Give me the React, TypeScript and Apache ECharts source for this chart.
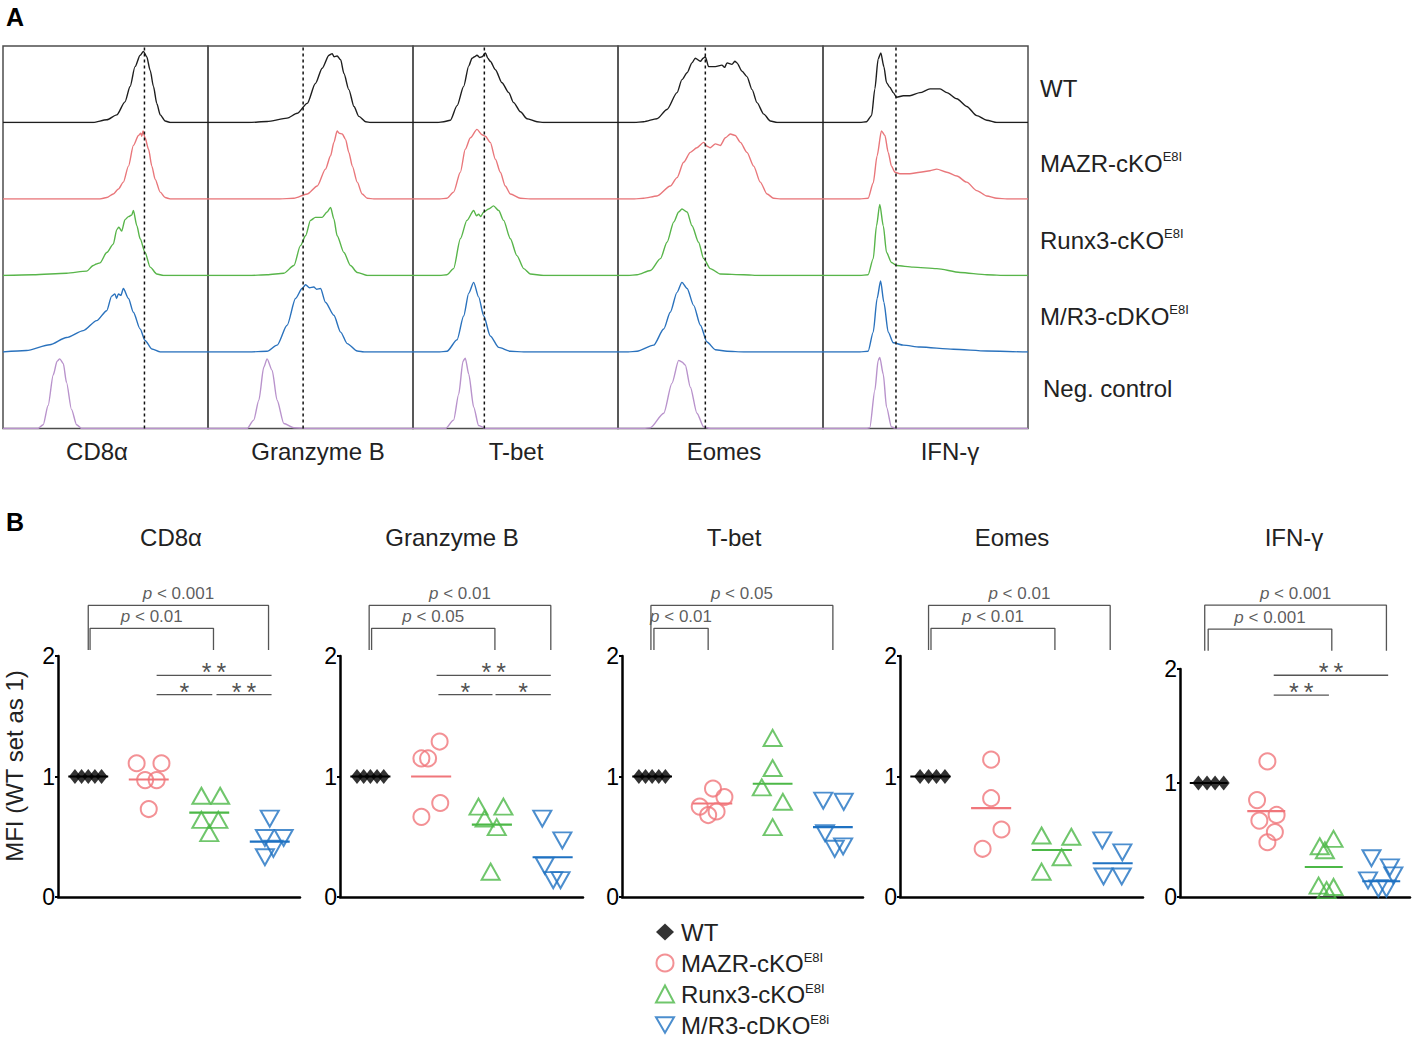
import React, { useEffect, useRef } from "react";
import * as echarts from "echarts";

const FONT = '"Liberation Sans", Arial, Helvetica, sans-serif';

// ---------- Panel A: flow cytometry histograms ----------
const MARKERS = ["CD8α", "Granzyme B", "T-bet", "Eomes", "IFN-γ"];
const HIST_ROWS = ["WT", "MAZR-cKO", "Runx3-cKO", "M/R3-cDKO", "Neg. control"];
const HIST_SUP = ["", "E8I", "E8I", "E8I", ""];
const HIST_COLORS = ["#1e1e1e", "#e9777b", "#58b54a", "#2a72bd", "#b993cc"];
// dashed reference line (WT level), x in 0..100 of each column
const DASH_POS = [69, 46.4, 34.8, 42.6, 35.6];

const CD8_HIST = [
  [[0,0],[44,0],[50.6,0.035],[55.5,0.1],[59.5,0.27],[62,0.47],[64.4,0.73],[66.9,0.88],[68.5,0.93],[70.1,0.86],[71.8,0.68],[73.4,0.47],[75,0.25],[76.7,0.1],[79.1,0.02],[81.6,0],[100,0]],
  [[0,0],[47.3,0],[50.6,0.02],[53.8,0.065],[56.3,0.13],[58.7,0.22],[61.2,0.43],[63.6,0.7],[66.1,0.83],[67.2,0.86],[67.7,0.82],[68.3,0.89],[69.3,0.8],[71,0.65],[72.6,0.43],[74.2,0.26],[76.7,0.09],[79.1,0.02],[81.6,0],[100,0]],
  [[0,0],[14.7,0.01],[31,0.03],[40.8,0.057],[44,0.13],[45.5,0.15],[47.3,0.165],[50.6,0.3],[53.8,0.41],[55.5,0.6],[56.5,0.63],[57.9,0.58],[59.5,0.73],[61.2,0.77],[62.8,0.79],[63.6,0.85],[65.3,0.65],[66.9,0.48],[69.3,0.3],[71.8,0.11],[75,0.02],[78.3,0],[100,0]],
  [[0,0],[11.4,0.02],[22.8,0.095],[31,0.19],[39.2,0.28],[45.7,0.41],[50.6,0.54],[53,0.73],[54.6,0.76],[55.4,0.7],[56.3,0.76],[57.5,0.74],[58.7,0.83],[61.2,0.7],[63.6,0.52],[66.9,0.3],[69.3,0.15],[72.6,0.04],[76.7,0],[100,0]],
  [[0,0],[17.1,0],[19.6,0.05],[22,0.3],[24.5,0.7],[26.4,0.88],[27.7,0.91],[29.4,0.85],[31,0.6],[33.4,0.25],[35.9,0.05],[38.3,0],[100,0]],
];
const GZMB_HIST = [
  [[0,0],[20,0],[28.8,0.013],[38.6,0.057],[43.5,0.12],[48.4,0.25],[52.4,0.51],[55.7,0.71],[59,0.88],[60.6,0.9],[61.5,0.86],[63,0.87],[64.7,0.82],[66.3,0.64],[68.7,0.43],[71.2,0.21],[73.6,0.08],[76.9,0.01],[79.3,0],[100,0]],
  [[0,0],[35,0],[41.9,0.01],[48.4,0.065],[53.3,0.17],[57.3,0.39],[59.8,0.565],[61.4,0.74],[63,0.89],[64,0.86],[65.5,0.85],[67.1,0.78],[68.7,0.61],[70.4,0.43],[72.8,0.22],[75.2,0.065],[77.7,0.01],[80.9,0],[100,0]],
  [[0,0],[20,0],[28.8,0.01],[37,0.03],[41.9,0.13],[45.1,0.39],[47.6,0.52],[50,0.72],[52.4,0.76],[55.7,0.76],[58.1,0.83],[59.8,0.89],[61.4,0.74],[63,0.52],[66.3,0.3],[69.5,0.13],[72.8,0.04],[77.7,0],[100,0]],
  [[0,0],[20,0],[28.8,0.01],[33.7,0.09],[38.6,0.35],[42.7,0.7],[45.9,0.83],[47.6,0.88],[49.5,0.84],[51.6,0.85],[53,0.82],[54.9,0.83],[57.3,0.65],[61.4,0.48],[64.7,0.26],[67.9,0.11],[72.8,0.013],[76.1,0],[100,0]],
  [[0,0],[19,0],[22.3,0.11],[24.8,0.37],[27.2,0.8],[28.8,0.91],[31.3,0.76],[33.7,0.37],[37,0.065],[41.9,0.01],[50,0],[100,0]],
];
const TBET_HIST = [
  [[0,0],[12,0],[15,0.01],[18.2,0.03],[21.5,0.22],[24.7,0.47],[27.2,0.74],[28.8,0.84],[30,0.86],[31.2,0.88],[32.5,0.85],[33.7,0.86],[35.3,0.91],[36.5,0.84],[37.7,0.8],[40.2,0.69],[43.4,0.52],[46.7,0.39],[49.1,0.26],[52.4,0.14],[55.6,0.05],[60.5,0.01],[63.7,0],[100,0]],
  [[0,0],[13,0],[16.6,0.01],[19.8,0.09],[23.1,0.35],[25.5,0.65],[28,0.8],[31.2,0.91],[33.7,0.84],[35.3,0.82],[37.7,0.74],[40.2,0.52],[42.6,0.35],[45,0.17],[47.5,0.065],[52.4,0.01],[57.2,0],[100,0]],
  [[0,0],[13,0],[16.6,0.01],[19.8,0.09],[23.1,0.48],[26.3,0.72],[29.6,0.85],[31,0.78],[32,0.8],[33,0.77],[34.5,0.83],[36.9,0.87],[39.3,0.91],[41.8,0.85],[44.2,0.72],[47.5,0.48],[50.7,0.26],[54,0.09],[57.2,0.02],[63.7,0],[100,0]],
  [[0,0],[13,0],[16.6,0.01],[21.5,0.16],[24.7,0.47],[27.2,0.77],[29.6,0.91],[32,0.72],[34.5,0.47],[37.7,0.21],[41.8,0.06],[47.5,0.01],[54,0],[100,0]],
  [[0,0],[15.8,0],[19.8,0.11],[22.3,0.45],[24.4,0.88],[25.5,0.92],[27.2,0.71],[29.6,0.28],[32,0.04],[35.3,0],[100,0]],
];
const EOMES_HIST = [
  [[0,0],[8,0],[12.5,0.01],[19,0.05],[23.9,0.17],[28.8,0.39],[31.2,0.56],[33.7,0.65],[36.1,0.78],[37.7,0.84],[40.2,0.8],[41.5,0.84],[42.6,0.86],[44.2,0.73],[47.5,0.73],[50.7,0.75],[52,0.72],[53.2,0.78],[55.6,0.76],[57,0.8],[58,0.78],[60.5,0.67],[62.9,0.6],[65.4,0.43],[67.8,0.26],[71.1,0.11],[74.3,0.02],[77.6,0],[100,0]],
  [[0,0],[8,0],[12.5,0.01],[19,0.04],[25.5,0.17],[28.8,0.28],[32,0.48],[35.3,0.61],[38.5,0.67],[41.8,0.74],[43.5,0.69],[45,0.67],[47.5,0.72],[49.9,0.7],[52.4,0.8],[54.8,0.85],[57.2,0.83],[59.7,0.74],[62.9,0.61],[66.2,0.43],[69.4,0.22],[72.7,0.065],[75.9,0.01],[79.2,0],[100,0]],
  [[0,0],[5,0],[9.3,0.01],[15.8,0.065],[20.7,0.22],[23.9,0.435],[27.2,0.7],[29.6,0.83],[31.2,0.87],[33.7,0.83],[36.1,0.65],[39.3,0.435],[41.8,0.22],[45,0.09],[49.9,0.02],[61.3,0.01],[69.4,0],[100,0]],
  [[0,0],[5,0],[9.3,0.01],[17.4,0.09],[22.3,0.3],[25.5,0.52],[28.8,0.78],[31.2,0.91],[33.7,0.83],[36.9,0.61],[40.2,0.35],[43.4,0.13],[47.5,0.03],[53.2,0.01],[61.3,0],[100,0]],
  [[0,0],[12.5,0],[15.8,0.01],[22.3,0.2],[26.3,0.59],[29.6,0.89],[31.2,0.87],[32.8,0.83],[35.3,0.54],[38.5,0.2],[41.8,0.02],[45,0],[100,0]],
];
const IFNG_HIST = [
  [[0,0],[18,0],[21.2,0.01],[23.7,0.09],[25.3,0.44],[26.9,0.83],[28.2,0.91],[29.7,0.73],[31,0.52],[32.6,0.46],[34.3,0.39],[35.9,0.33],[39.2,0.35],[42.4,0.35],[47.3,0.39],[52.2,0.44],[57.1,0.44],[60.4,0.39],[65.3,0.31],[70.1,0.21],[75,0.09],[79.9,0.03],[84.8,0],[100,0]],
  [[0,0],[18,0],[22,0.01],[24.5,0.21],[26.4,0.565],[28.5,0.89],[30.2,0.83],[31.8,0.61],[33.4,0.43],[35.1,0.35],[37.5,0.33],[42.4,0.33],[47.3,0.35],[52.2,0.37],[55.5,0.39],[60.4,0.35],[65.3,0.3],[70.1,0.22],[75,0.11],[79.9,0.04],[84.8,0.01],[89.7,0],[100,0]],
  [[0,0],[18,0],[22,0.01],[24.5,0.22],[26.1,0.65],[27.7,0.93],[29.4,0.65],[31,0.3],[33.4,0.17],[35.9,0.13],[44,0.11],[55.5,0.09],[66.9,0.04],[79.9,0.01],[89.7,0],[100,0]],
  [[0,0],[18,0],[22,0.01],[24.5,0.26],[26.4,0.7],[28.1,0.93],[29.7,0.65],[31.8,0.26],[34.3,0.12],[39.2,0.09],[47.3,0.065],[63.6,0.035],[79.9,0.013],[99.5,0],[100,0]],
  [[0,0],[21.2,0],[22.8,0.01],[25.3,0.5],[26.9,0.89],[27.7,0.93],[29.4,0.71],[31,0.28],[33.4,0.02],[35.9,0],[100,0]],
];
const HISTS = [CD8_HIST, GZMB_HIST, TBET_HIST, EOMES_HIST, IFNG_HIST];

// ---------- Panel B: MFI (WT set as 1) ----------
const GENOTYPES = ["WT", "MAZR-cKO", "Runx3-cKO", "M/R3-cDKO"];
const GENO_SUP = ["", "E8I", "E8I", "E8i"];
const GENO_COLORS = ["#000000", "#f0767b", "#4cb847", "#1f72c2"];

const CD8_VALUES = [[1, 1, 1, 1, 1], [1.11, 1.11, 0.97, 0.97, 0.73], [0.84, 0.84, 0.64, 0.64, 0.53], [0.65, 0.49, 0.49, 0.4, 0.33]];
const CD8_JITTER = [[-0.22, -0.11, 0, 0.11, 0.22], [-0.2, 0.21, -0.06, 0.13, 0], [-0.13, 0.18, -0.13, 0.15, 0], [0, -0.08, 0.23, 0.06, -0.08]];
const CD8_MEANS = [1, 0.975, 0.7, 0.46];

const GZMB_VALUES = [[1, 1, 1, 1, 1], [1.15, 1.15, 1.29, 0.665, 0.78], [0.75, 0.75, 0.65, 0.58, 0.21], [0.65, 0.47, 0.26, 0.14, 0.14]];
const GZMB_JITTER = [[-0.22, -0.11, 0, 0.11, 0.22], [-0.16, -0.05, 0.14, -0.16, 0.15], [-0.22, 0.19, -0.12, 0.08, -0.02], [-0.17, 0.16, -0.13, 0.01, 0.13]];
const GZMB_MEANS = [1, 1.0, 0.6, 0.33];

const TBET_VALUES = [[1, 1, 1, 1, 1], [0.9, 0.83, 0.75, 0.71, 0.68], [1.32, 1.07, 0.91, 0.79, 0.58], [0.8, 0.79, 0.53, 0.4, 0.42]];
const TBET_JITTER = [[-0.22, -0.11, 0, 0.11, 0.22], [0.01, 0.2, -0.21, 0.07, -0.07], [0, 0, -0.18, 0.17, 0], [-0.16, 0.18, -0.13, 0.03, 0.17]];
const TBET_MEANS = [1, 0.776, 0.94, 0.58];

const EOMES_VALUES = [[1, 1, 1, 1], [1.14, 0.82, 0.56, 0.4], [0.51, 0.5, 0.33, 0.21], [0.47, 0.37, 0.17, 0.17]];
const EOMES_JITTER = [[-0.17, -0.03, 0.1, 0.24], [0, 0, 0.17, -0.14], [-0.17, 0.32, 0.16, -0.17], [-0.17, 0.16, -0.15, 0.15]];
const EOMES_MEANS = [1, 0.737, 0.39, 0.28];

const IFNG_VALUES = [[1, 1, 1, 1], [1.19, 0.85, 0.72, 0.67, 0.57, 0.48], [0.51, 0.445, 0.41, 0.1, 0.06, 0.088], [0.34, 0.26, 0.19, 0.146, 0.074, 0.074]];
const IFNG_JITTER = [[-0.18, -0.03, 0.11, 0.26], [0.02, -0.16, 0.18, -0.12, 0.15, 0.02], [0.17, -0.07, 0.02, -0.09, 0.05, 0.17], [-0.17, 0.15, 0.21, -0.23, -0.05, 0.09]];
const IFNG_MEANS = [1, 0.754, 0.263, 0.138];

const VALUES = [CD8_VALUES, GZMB_VALUES, TBET_VALUES, EOMES_VALUES, IFNG_VALUES];
const JITTER = [CD8_JITTER, GZMB_JITTER, TBET_JITTER, EOMES_JITTER, IFNG_JITTER];
const MEANS = [CD8_MEANS, GZMB_MEANS, TBET_MEANS, EOMES_MEANS, IFNG_MEANS];

// significance brackets: [label, from group, to group]  (outer first, then inner)
const CD8_PVALS = [["p < 0.001", 0.0, 2.98], ["p < 0.01", 0.03, 2.07]];
const GZMB_PVALS = [["p < 0.01", -0.02, 2.97], ["p < 0.05", 0.02, 2.05]];
const TBET_PVALS = [["p < 0.05", -0.02, 3.0], ["p < 0.01", 0.03, 0.93]];
const EOMES_PVALS = [["p < 0.01", -0.03, 2.96], ["p < 0.01", 0.01, 2.05]];
const IFNG_PVALS = [["p < 0.001", -0.07, 3.09], ["p < 0.001", -0.01, 2.14]];
const PVALS = [CD8_PVALS, GZMB_PVALS, TBET_PVALS, EOMES_PVALS, IFNG_PVALS];

// star lines: [label, from, to, level 0 = upper, 1 = lower]
const CD8_STARS = [["**", 1.13, 3.03, 0], ["*", 1.13, 2.05, 1], ["**", 2.12, 3.03, 1]];
const GZMB_STARS = [["**", 1.09, 2.97, 0], ["*", 1.12, 2.01, 1], ["*", 2.06, 2.97, 1]];
const TBET_STARS: any[] = [];
const EOMES_STARS: any[] = [];
const IFNG_STARS = [["**", 1.13, 3.12, 0], ["**", 1.13, 2.09, 1]];
const STARS = [CD8_STARS, GZMB_STARS, TBET_STARS, EOMES_STARS, IFNG_STARS];

// annotation levels in axis units: [leg bottom, inner bar, outer bar, upper star bar, lower star bar]
const LEVELS = [
  [2.05, 2.23, 2.42, 1.84, 1.68],
  [2.05, 2.23, 2.42, 1.84, 1.68],
  [2.05, 2.23, 2.42, 1.84, 1.68],
  [2.05, 2.23, 2.42, 1.84, 1.68],
  [2.16, 2.35, 2.56, 1.945, 1.77],
];
const Y_TICKS = [0, 1, 2];

// layout
const COL_LEFT = 3, COL_W = 205, ROW_TOP = 46, ROW_H = 76.5;
const P_LEFT = [58, 340, 622, 900, 1180];
const P_TOP = [656, 656, 656, 656, 669];
const P_W = [242, 243, 241, 243, 230];
const P_H = [241, 241, 241, 241, 228];

const DOWN_TRI = "path://M0,0L20,0L10,17.3Z";
const SYMBOLS: any[] = ["diamond", "circle", "triangle", DOWN_TRI];
const SYM_SIZE: any[] = [[12, 15], 16, [18, 16], [18, 16]];

function supText(name: string, sup: string) {
  return sup ? `{m|${name}}{s|${sup}}` : `{m|${name}}`;
}

function buildOption() {
  const grid: any[] = [];
  const xAxis: any[] = [];
  const yAxis: any[] = [];
  const series: any[] = [];
  const graphic: any[] = [];

  // Panel A row grids
  for (let c = 0; c < 5; c++) {
    for (let r = 0; r < 5; r++) {
      const idx = grid.length;
      grid.push({ left: COL_LEFT + c * COL_W, top: ROW_TOP + r * ROW_H, width: COL_W, height: ROW_H });
      xAxis.push({ type: "value", gridIndex: idx, min: 0, max: 100, show: false });
      yAxis.push({ type: "value", gridIndex: idx, min: 0, max: 1, show: false });
      series.push({
        type: "line", name: "hist", xAxisIndex: idx, yAxisIndex: idx, data: HISTS[c][r],
        symbol: "none", showSymbol: false, smooth: 0.25, smoothMonotone: "x", silent: true, z: 3,
        lineStyle: { color: HIST_COLORS[r], width: 1.4 },
      });
    }
  }
  // Panel A column frames + dashed line
  for (let c = 0; c < 5; c++) {
    const idx = grid.length;
    grid.push({
      left: COL_LEFT + c * COL_W, top: ROW_TOP, width: COL_W, height: ROW_H * 5,
      show: true, borderColor: "#4d4d4d", borderWidth: 1.5, backgroundColor: "transparent",
    });
    xAxis.push({ type: "value", gridIndex: idx, min: 0, max: 100, show: false });
    yAxis.push({ type: "value", gridIndex: idx, min: 0, max: 1, show: false });
    series.push({
      type: "line", name: "dash", xAxisIndex: idx, yAxisIndex: idx,
      data: [[DASH_POS[c], 0], [DASH_POS[c], 1]], symbol: "none", silent: true, z: 4,
      lineStyle: { color: "#111", width: 1.5, type: [3, 3] },
    });
    graphic.push({
      type: "text", x: [97, 318, 516, 724, 950][c], y: 451,
      style: { text: MARKERS[c], font: `24px ${FONT}`, fill: "#222", align: "center", verticalAlign: "middle", textAlign: "center", textVerticalAlign: "middle" },
    });
  }
  // Panel A row labels
  const rowY = [88, 163, 240, 316, 388];
  for (let r = 0; r < 5; r++) {
    graphic.push({
      type: "text", x: r === 4 ? 1043 : 1040, y: rowY[r],
      style: {
        text: supText(HIST_ROWS[r], HIST_SUP[r]), fill: "#222",
        align: "left", verticalAlign: "middle", textAlign: "left", textVerticalAlign: "middle",
        rich: {
          m: { fontSize: 24, fontFamily: FONT, fill: "#222", color: "#222", lineHeight: 26 },
          s: { fontSize: 13, fontFamily: FONT, fill: "#222", color: "#222", verticalAlign: "top", lineHeight: 26 },
        },
      },
    });
  }

  // Panel B
  for (let p = 0; p < 5; p++) {
    const idx = grid.length;
    grid.push({ left: P_LEFT[p], top: P_TOP[p], width: P_W[p], height: P_H[p] });
    xAxis.push({
      type: "value", gridIndex: idx, min: -0.5, max: 3.5,
      axisLine: { show: true, onZero: false, lineStyle: { color: "#000", width: 2.5 } },
      axisTick: { show: false }, axisLabel: { show: false }, splitLine: { show: false },
    });
    yAxis.push({
      type: "value", gridIndex: idx, min: Y_TICKS[0], max: Y_TICKS[2], interval: 1,
      axisLine: { show: true, onZero: false, lineStyle: { color: "#000", width: 2.5 } },
      axisTick: { show: true, length: 3, lineStyle: { color: "#000", width: 2 } },
      axisLabel: { fontSize: 23, color: "#000", margin: 3, fontFamily: FONT },
      splitLine: { show: false },
    });
    const lv = LEVELS[p];
    for (let g = 0; g < 4; g++) {
      const vals = VALUES[p][g];
      const jit = JITTER[p][g];
      const hollow = g > 0;
      series.push({
        type: "scatter", name: GENOTYPES[g], xAxisIndex: idx, yAxisIndex: idx,
        data: vals.map((v: number, i: number) => [g + jit[i], v]),
        symbol: SYMBOLS[g], symbolSize: SYM_SIZE[g], z: 5, silent: true,
        itemStyle: hollow
          ? { color: "rgba(255,255,255,0)", borderColor: GENO_COLORS[g], borderWidth: 2 }
          : { color: "#000", borderWidth: 0 },
      });
      series.push({
        type: "line", name: "mean", xAxisIndex: idx, yAxisIndex: idx,
        data: [[g - 0.33, MEANS[p][g]], [g + 0.33, MEANS[p][g]]],
        symbol: "none", silent: true, z: 4,
        lineStyle: { color: GENO_COLORS[g], width: 2.2 },
      });
    }
    // p-value brackets
    const labelPts: any[] = [];
    PVALS[p].forEach((b: any, k: number) => {
      const top = k === 0 ? lv[2] : lv[1];
      series.push({
        type: "line", name: "bracket", xAxisIndex: idx, yAxisIndex: idx, clip: false,
        data: [[b[1], lv[0]], [b[1], top], [b[2], top], [b[2], lv[0]]],
        symbol: "none", silent: true, lineStyle: { color: "#555", width: 1.3 },
      });
      labelPts.push({ value: [(b[1] + b[2]) / 2, top], name: b[0] });
    });
    series.push({
      type: "scatter", name: "plabel", xAxisIndex: idx, yAxisIndex: idx, clip: false, silent: true,
      symbolSize: 1, itemStyle: { color: "rgba(0,0,0,0)" }, data: labelPts,
      label: {
        show: true, position: "inside", offset: [0, -12],
        formatter: (q: any) => "{i|p}" + q.name.slice(1),
        fontSize: 17, color: "#333", fontFamily: FONT,
        rich: { i: { fontStyle: "italic", fontSize: 17, color: "#333", fontFamily: FONT } },
      },
    });
    // star lines
    const starPts: any[] = [];
    STARS[p].forEach((s: any) => {
      const y = s[3] === 0 ? lv[3] : lv[4];
      series.push({
        type: "line", name: "starline", xAxisIndex: idx, yAxisIndex: idx, clip: false,
        data: [[s[1], y], [s[2], y]], symbol: "none", silent: true,
        lineStyle: { color: "#555", width: 1.3 },
      });
      starPts.push({ value: [(s[1] + s[2]) / 2, y], name: s[0] });
    });
    if (starPts.length) {
      series.push({
        type: "scatter", name: "stars", xAxisIndex: idx, yAxisIndex: idx, clip: false, silent: true,
        symbolSize: 1, itemStyle: { color: "rgba(0,0,0,0)" }, data: starPts,
        label: {
          show: true, position: "inside", offset: [0, -3],
          formatter: (q: any) => q.name.split("").join("\u2009"), fontSize: 25, color: "#222", fontFamily: FONT,
        },
      });
    }
    graphic.push({
      type: "text", x: [171, 452, 734, 1012, 1294][p], y: 537,
      style: { text: MARKERS[p], font: `24px ${FONT}`, fill: "#222", align: "center", verticalAlign: "middle", textAlign: "center", textVerticalAlign: "middle" },
    });
  }

  // panel letters and y title
  graphic.push(
    { type: "text", x: 6, y: 17, style: { text: "A", font: `bold 25px ${FONT}`, fill: "#000", align: "left", verticalAlign: "middle", textAlign: "left", textVerticalAlign: "middle" } },
    { type: "text", x: 6, y: 522, style: { text: "B", font: `bold 25px ${FONT}`, fill: "#000", align: "left", verticalAlign: "middle", textAlign: "left", textVerticalAlign: "middle" } },
    { type: "text", x: 14, y: 766, rotation: Math.PI / 2, style: { text: "MFI (WT set as 1)", font: `24px ${FONT}`, fill: "#222", align: "center", verticalAlign: "middle", textAlign: "center", textVerticalAlign: "middle" } },
  );

  return {
    animation: false,
    backgroundColor: "#fff",
    textStyle: { fontFamily: FONT },
    grid, xAxis, yAxis, series, graphic,
    legend: {
      data: GENOTYPES, orient: "vertical", left: 650, top: 915, height: 160, itemGap: 7,
      itemWidth: 18, itemHeight: 17, selectedMode: false,
      formatter: (n: string) => supText(n, GENO_SUP[GENOTYPES.indexOf(n)]),
      textStyle: {
        fontSize: 24, color: "#222", fontFamily: FONT, padding: [0, 0, 0, 2],
        rich: {
          m: { fontSize: 24, color: "#222", fontFamily: FONT, lineHeight: 24 },
          s: { fontSize: 13, color: "#222", fontFamily: FONT, verticalAlign: "top", lineHeight: 24 },
        },
      },
    },
  };
}

export default function App() {
  const ref = useRef<HTMLDivElement>(null);
  useEffect(() => {
    if (!ref.current) return;
    const chart = echarts.init(ref.current, null, { renderer: "svg" });
    chart.setOption(buildOption() as any);
    return () => chart.dispose();
  }, []);
  return (
    <div
      ref={ref}
      style={{ position: "absolute", left: 0, top: 0, width: 1412, height: 1042, background: "#fff" }}
    />
  );
}
